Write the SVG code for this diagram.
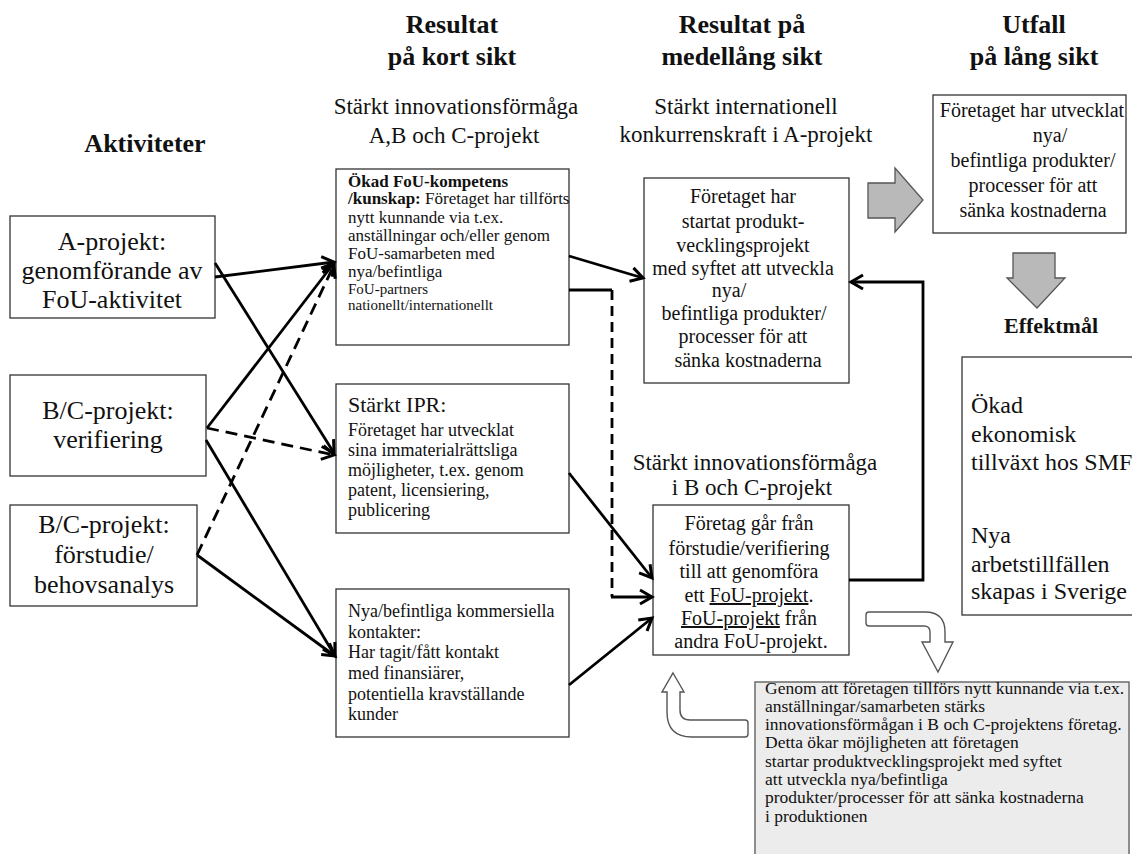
<svg xmlns="http://www.w3.org/2000/svg" width="1132" height="854" viewBox="0 0 1132 854" font-family="'Liberation Serif', 'DejaVu Serif', serif">
  <defs>
    <style>
      text { font-family: "Liberation Serif", "DejaVu Serif", serif; fill: #111; }
      .h { font-size: 26px; font-weight: bold; text-anchor: middle; }
      .sub { font-size: 23px; text-anchor: middle; }
      .box { fill: #fff; stroke: #333; stroke-width: 1.3; }
      .act { font-size: 26px; text-anchor: middle; }
      .mid { font-size: 20px; text-anchor: middle; }
      .s17 { font-size: 17px; }
      .s15 { font-size: 15px; }
      .s18 { font-size: 18px; }
      .ln { fill: none; stroke: #000; stroke-width: 2.8; }
      .dash { stroke-dasharray: 12 7; }
      .vdash { stroke-dasharray: 10 6; }
      .blk { fill: #b9b9b9; stroke: #555; stroke-width: 1.3; stroke-linejoin: miter; }
      .hollow { fill: #fff; stroke: #555; stroke-width: 1.4; }
      .note { fill: #ececec; stroke: #6b6b6b; stroke-width: 1.5; }
    </style>
    <marker id="ah" viewBox="-15 -10 18 20" refX="0" refY="0" markerWidth="18" markerHeight="20" markerUnits="userSpaceOnUse" orient="auto">
      <path d="M-12,-7 L0,0 L-12,7" fill="none" stroke="#000" stroke-width="3"/>
    </marker>
  </defs>

  <!-- column headings -->
  <g id="headings">
    <text class="h" x="145" y="152">Aktiviteter</text>
    <text class="h" x="452" y="33">Resultat</text>
    <text class="h" x="452" y="65">på kort sikt</text>
    <text class="h" x="742" y="33">Resultat på</text>
    <text class="h" x="742" y="65">medellång sikt</text>
    <text class="h" x="1034" y="33">Utfall</text>
    <text class="h" x="1034" y="65">på lång sikt</text>
    <text class="sub" x="456" y="114">Stärkt innovationsförmåga</text>
    <text class="sub" x="454" y="143">A,B och C-projekt</text>
    <text class="sub" x="746" y="114">Stärkt internationell</text>
    <text class="sub" x="746" y="142">konkurrenskraft i A-projekt</text>
    <text class="sub" x="755" y="470">Stärkt innovationsförmåga</text>
    <text class="sub" x="752" y="495">i B och C-projekt</text>
    <text class="h" x="1051" y="333" style="font-size:22px">Effektmål</text>
  </g>

  <!-- activities -->
  <g id="a-projekt">
    <rect class="box" x="10" y="216" width="205" height="102"/>
    <text class="act" x="112" y="250">A-projekt:</text>
    <text class="act" x="112" y="279">genomförande av</text>
    <text class="act" x="112" y="308">FoU-aktivitet</text>
  </g>
  <g id="bc-verifiering">
    <rect class="box" x="10" y="375" width="196" height="101"/>
    <text class="act" x="108" y="419">B/C-projekt:</text>
    <text class="act" x="108" y="448">verifiering</text>
  </g>
  <g id="bc-forstudie">
    <rect class="box" x="10" y="505" width="187" height="101"/>
    <text class="act" x="104" y="533">B/C-projekt:</text>
    <text class="act" x="104" y="563">förstudie/</text>
    <text class="act" x="104" y="593">behovsanalys</text>
  </g>

  <!-- short-term results -->
  <g id="fou-kompetens">
    <rect class="box" x="336" y="169" width="233" height="176"/>
    <text class="s17" x="348" y="187" font-weight="bold">Ökad FoU-kompetens</text>
    <text class="s17" x="348" y="204"><tspan font-weight="bold">/kunskap:</tspan> Företaget har tillförts</text>
    <text class="s17" x="348" y="223">nytt kunnande via t.ex.</text>
    <text class="s17" x="348" y="241">anställningar och/eller genom</text>
    <text class="s17" x="348" y="259">FoU-samarbeten med</text>
    <text class="s17" x="348" y="277">nya/befintliga</text>
    <text class="s15" x="348" y="294">FoU-partners</text>
    <text class="s15" x="348" y="310">nationellt/internationellt</text>
  </g>
  <g id="ipr">
    <rect class="box" x="336" y="384" width="233" height="149"/>
    <text x="348" y="412" font-size="22">Stärkt IPR:</text>
    <text class="s18" x="348" y="436">Företaget har utvecklat</text>
    <text class="s18" x="348" y="456">sina immaterialrättsliga</text>
    <text class="s18" x="348" y="476">möjligheter, t.ex. genom</text>
    <text class="s18" x="348" y="496">patent, licensiering,</text>
    <text class="s18" x="348" y="516">publicering</text>
  </g>
  <g id="kontakter">
    <rect class="box" x="336" y="589" width="233" height="148"/>
    <text class="s18" x="348" y="617">Nya/befintliga kommersiella</text>
    <text class="s18" x="348" y="638">kontakter:</text>
    <text class="s18" x="348" y="658">Har tagit/fått kontakt</text>
    <text class="s18" x="348" y="679">med finansiärer,</text>
    <text class="s18" x="348" y="700">potentiella kravställande</text>
    <text class="s18" x="348" y="720">kunder</text>
  </g>

  <!-- medium-term results -->
  <g id="produktutveckling">
    <rect class="box" x="644" y="178" width="205" height="205"/>
    <text class="mid" x="743" y="203">Företaget har</text>
    <text class="mid" x="743" y="228">startat produkt-</text>
    <text class="mid" x="743" y="252">vecklingsprojekt</text>
    <text class="mid" x="743" y="275">med syftet att utveckla</text>
    <text class="mid" x="729" y="297">nya/</text>
    <text class="mid" x="744" y="320">befintliga produkter/</text>
    <text class="mid" x="743" y="343">processer för att</text>
    <text class="mid" x="748" y="367">sänka kostnaderna</text>
  </g>
  <g id="fou-projekt">
    <rect class="box" x="653" y="505" width="196" height="150"/>
    <text class="mid" x="749" y="530">Företag går från</text>
    <text class="mid" x="749" y="555">förstudie/verifiering</text>
    <text class="mid" x="749" y="578">till att genomföra</text>
    <text class="mid" x="749" y="602">ett <tspan text-decoration="underline">FoU-projekt</tspan>.</text>
    <text class="mid" x="749" y="625"><tspan text-decoration="underline">FoU-projekt</tspan> från</text>
    <text class="mid" x="751" y="648">andra FoU-projekt.</text>
  </g>

  <!-- long-term outcome and impact -->
  <g id="utfall">
    <rect class="box" x="933" y="95" width="193" height="138"/>
    <text class="mid" x="1032" y="117">Företaget har utvecklat</text>
    <text class="mid" x="1050" y="142">nya/</text>
    <text class="mid" x="1033" y="167">befintliga produkter/</text>
    <text class="mid" x="1033" y="192">processer för att</text>
    <text class="mid" x="1033" y="217">sänka kostnaderna</text>
  </g>
  <g id="effektmal">
    <rect class="box" x="962" y="357" width="172" height="258"/>
    <text x="971" y="413" font-size="24">Ökad</text>
    <text x="971" y="442" font-size="24">ekonomisk</text>
    <text x="971" y="470" font-size="24">tillväxt hos SMF</text>
    <text x="971" y="543" font-size="24">Nya</text>
    <text x="971" y="572" font-size="24">arbetstillfällen</text>
    <text x="971" y="599" font-size="24">skapas i Sverige</text>
  </g>

  <!-- explanatory note -->
  <g id="forklaring">
    <rect class="note" x="755" y="682" width="374" height="185"/>
    <text x="765" y="694" font-size="17.5">Genom att företagen tillförs nytt kunnande via t.ex.</text>
    <text x="765" y="712" font-size="17.5">anställningar/samarbeten stärks</text>
    <text x="765" y="730" font-size="17.5">innovationsförmågan i B och C-projektens företag.</text>
    <text x="765" y="748" font-size="17.5">Detta ökar möjligheten att företagen</text>
    <text x="765" y="767" font-size="17.5">startar produktvecklingsprojekt med syftet</text>
    <text x="765" y="785" font-size="17.5">att utveckla nya/befintliga</text>
    <text x="765" y="803" font-size="17.5">produkter/processer för att sänka kostnaderna</text>
    <text x="765" y="822" font-size="17.5">i produktionen</text>
  </g>

  <!-- block arrows -->
  <g id="block-arrows">
    <path class="blk" d="M868,183 L895,183 L895,168 L923,200 L895,232 L895,218 L868,218 Z"/>
    <path class="blk" d="M1013,253 L1055,253 L1055,278 L1065,278 L1037,308 L1007,278 L1013,278 Z"/>
    <path class="hollow" d="M869,612 L925,612 Q945,612 945,632 L945,642 L953,642 L938,672 L922,642 L930,642 L930,632 Q930,626 924,626 L869,626 Q866,626 866,623 L866,615 Q866,612 869,612 Z"/>
    <path class="hollow" d="M673,673 L684,692 L680,692 L680,710 Q680,720 690,720 L745,720 Q748,720 748,723 L748,734 Q748,737 745,737 L692,737 Q667,737 667,712 L667,692 L662,692 Z"/>
  </g>

  <!-- connectors -->
  <g id="connectors">
    <path class="ln" d="M215,277 L334,262" marker-end="url(#ah)"/>
    <path class="ln" d="M215,263 L334,453" marker-end="url(#ah)"/>
    <path class="ln" d="M207,428 L334,263" marker-end="url(#ah)"/>
    <path class="ln dash" d="M207,428 L334,455" marker-end="url(#ah)"/>
    <path class="ln" d="M206,440 L335,656" marker-end="url(#ah)"/>
    <path class="ln dash" d="M197,555 L334,265" marker-end="url(#ah)"/>
    <path class="ln" d="M197,555 L335,656" marker-end="url(#ah)"/>

    <path class="ln" d="M569,256 L643,278" marker-end="url(#ah)"/>
    <path class="ln" d="M569,473 L652,578" marker-end="url(#ah)"/>
    <path class="ln" d="M569,685 L652,618" marker-end="url(#ah)"/>
    <path class="ln" d="M569,290 L612,290"/>
    <path class="ln vdash" d="M612,290 L612,597"/>
    <path class="ln" d="M611,597 L652,597" marker-end="url(#ah)"/>

    <path class="ln" d="M849,580 L923,580 L923,282 L851,282" marker-end="url(#ah)"/>
  </g>
</svg>
